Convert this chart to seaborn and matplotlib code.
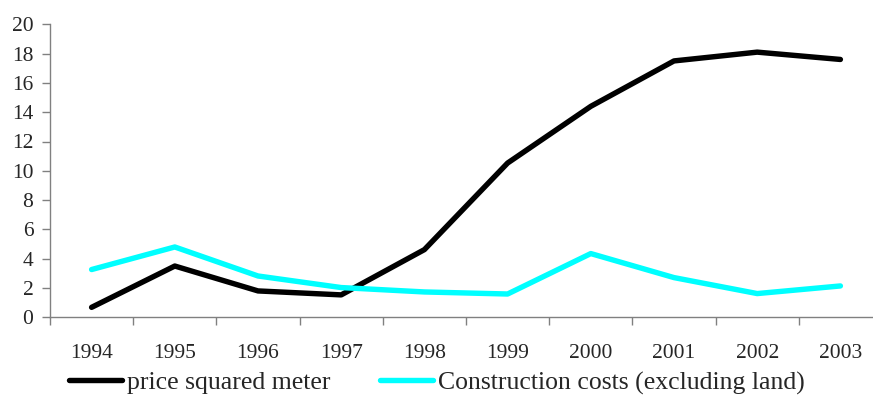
import matplotlib
matplotlib.use("Agg")
import matplotlib.pyplot as plt
import seaborn as sns
import pandas as pd
import numpy as np

years = ["1994", "1995", "1996", "1997", "1998", "1999", "2000", "2001", "2002", "2003"]
price_sqm = [0.68, 3.5, 1.8, 1.53, 4.62, 10.53, 14.4, 17.5, 18.1, 17.6]
construction_costs = [3.26, 4.8, 2.82, 2.03, 1.73, 1.59, 4.35, 2.71, 1.62, 2.14]
y_ticks = [0, 2, 4, 6, 8, 10, 12, 14, 16, 18, 20]

sns.set_style("white")
plt.rcParams["font.family"] = ["Liberation Serif", "DejaVu Serif"]

df = pd.DataFrame({
    "pos": list(range(len(years))) * 2,
    "value": price_sqm + construction_costs,
    "series": ["price squared meter"] * len(years)
    + ["Construction costs (excluding land)"] * len(years),
})

fig = plt.figure(figsize=(8.73, 3.96), dpi=100)
ax = fig.add_axes([50 / 873, 1 - 317.3 / 396, 832 / 873, (317.3 - 24.3) / 396])

sns.lineplot(
    data=df, x="pos", y="value", hue="series",
    palette={"price squared meter": "#000000",
             "Construction costs (excluding land)": "#00FFFF"},
    linewidth=3.9, ax=ax, legend=False,
    solid_capstyle="round", solid_joinstyle="round",
)

ax.set_xlim(-0.5, len(years) - 0.5)
ax.set_ylim(0, 20)
ax.set_xlabel("")
ax.set_ylabel("")

# category boundaries carry the tick marks, centres carry the labels
ax.set_xticks(np.arange(-0.5, len(years), 1.0))
ax.set_xticklabels([])
ax.set_xticks(np.arange(len(years)), minor=True)
ax.set_xticklabels(years, minor=True)
ax.tick_params(axis="x", which="major", direction="out", length=6,
               width=1, color="#808080", bottom=True)
ax.tick_params(axis="x", which="minor", length=0, pad=19.5, labelsize=15.5)

ax.set_yticks(y_ticks)
ax.set_yticklabels([str(v) for v in y_ticks])
ax.tick_params(axis="y", direction="out", length=6, width=1,
               color="#808080", left=True, labelsize=15.5, pad=6)

for side in ["top", "right"]:
    ax.spines[side].set_visible(False)
for side in ["left", "bottom"]:
    ax.spines[side].set_color("#808080")
    ax.spines[side].set_linewidth(1)

handles = [
    plt.Line2D([], [], color="#000000", linewidth=3.9),
    plt.Line2D([], [], color="#00FFFF", linewidth=3.9),
]
fig.legend(
    handles, ["price squared meter", "Construction costs (excluding land)"],
    loc="center", bbox_to_anchor=(437 / 873, 1 - 383 / 396), ncol=2,
    frameon=False, fontsize=18.5, handlelength=2.06, handletextpad=0.2,
    columnspacing=1.95, borderpad=0, borderaxespad=0,
)

fig.savefig("out.png", dpi=100)
